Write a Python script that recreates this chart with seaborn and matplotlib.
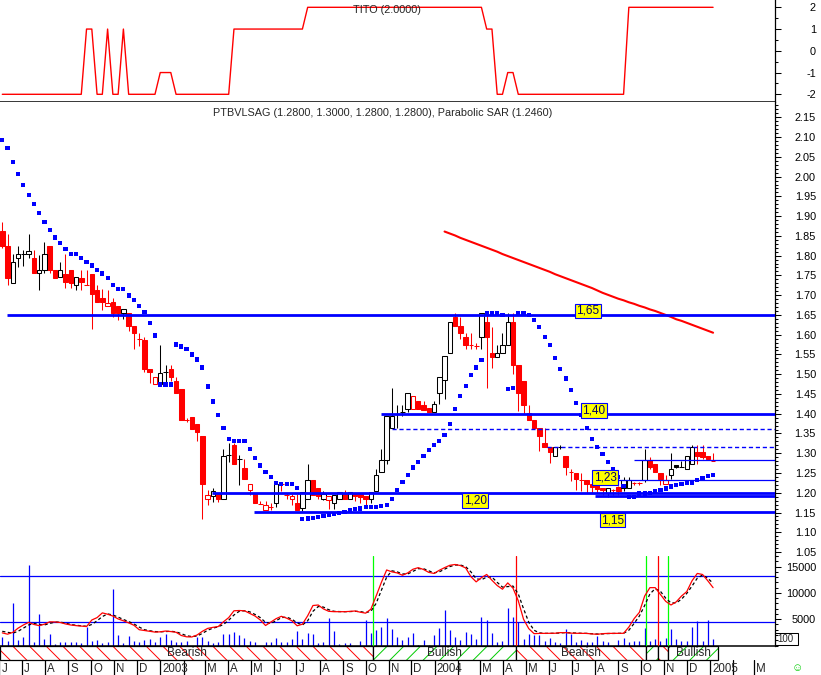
import numpy as np
import pandas as pd
import matplotlib
matplotlib.use("Agg")
import matplotlib.pyplot as plt
import seaborn as sns
from matplotlib.patches import Rectangle
from matplotlib.ticker import MultipleLocator, FixedLocator, FormatStrFormatter

sns.set_style("white")
plt.rcParams["font.family"] = ["Liberation Sans", "DejaVu Sans"]
plt.rcParams["axes.unicode_minus"] = False
plt.rcParams["hatch.linewidth"] = 0.7

RED, BLUE, GREEN = "#ff0000", "#0000ff", "#00ff00"

# weekly bars, first one dated 2002-06-05
first_bar = "2002-06-05"

opens = [1.862, 1.825, 1.732, 1.794, 1.804, 1.803, 1.794, 1.755, 1.763, 1.824,
         1.763, 1.745, 1.753, 1.763, 1.725, 1.743, 1.725, 1.753, 1.713, 1.693,
         1.672, 1.683, 1.672, 1.654, 1.654, 1.622, 1.588, 1.586, 1.513, 1.474,
         1.474, 1.505, 1.513, 1.482, 1.462, 1.383, 1.391, 1.374, 1.343, 1.183,
         1.193, 1.198, 1.183, 1.295, 1.322, 1.285, 1.262, 1.207, 1.200, 1.172,
         1.156, 1.165, 1.173, 1.222, 1.194, 1.183, 1.174, 1.162, 1.183, 1.233,
         1.211, 1.183, 1.181, 1.173, 1.183, 1.198, 1.183, 1.198, 1.198, 1.191,
         1.183, 1.204, 1.253, 1.284, 1.363, 1.400, 1.405, 1.413, 1.413, 1.432,
         1.422, 1.415, 1.405, 1.453, 1.485, 1.553, 1.645, 1.622, 1.593, 1.575,
         1.572, 1.593, 1.633, 1.554, 1.544, 1.553, 1.575, 1.633, 1.523, 1.482,
         1.402, 1.384, 1.363, 1.325, 1.315, 1.293, 1.316, 1.293, 1.253, 1.251,
         1.233, 1.233, 1.222, 1.220, 1.211, 1.200, 1.206, 1.215, 1.213, 1.213,
         1.225, 1.224, 1.233, 1.284, 1.274, 1.251, 1.223, 1.244, 1.270, 1.264,
         1.261, 1.274, 1.303, 1.303, 1.293, 1.280]
highs = [1.885, 1.855, 1.804, 1.825, 1.814, 1.855, 1.815, 1.801, 1.834, 1.824,
         1.763, 1.783, 1.804, 1.763, 1.745, 1.763, 1.763, 1.753, 1.725, 1.715,
         1.714, 1.694, 1.672, 1.664, 1.654, 1.622, 1.603, 1.594, 1.513, 1.492,
         1.574, 1.524, 1.524, 1.493, 1.462, 1.390, 1.391, 1.374, 1.343, 1.206,
         1.211, 1.198, 1.312, 1.326, 1.326, 1.295, 1.285, 1.223, 1.200, 1.180,
         1.178, 1.175, 1.223, 1.222, 1.200, 1.198, 1.198, 1.202, 1.274, 1.233,
         1.211, 1.204, 1.191, 1.194, 1.202, 1.207, 1.202, 1.198, 1.198, 1.191,
         1.201, 1.261, 1.312, 1.394, 1.464, 1.422, 1.422, 1.453, 1.444, 1.432,
         1.432, 1.415, 1.432, 1.492, 1.546, 1.633, 1.655, 1.645, 1.603, 1.603,
         1.580, 1.655, 1.655, 1.620, 1.575, 1.603, 1.655, 1.655, 1.523, 1.482,
         1.422, 1.384, 1.363, 1.363, 1.315, 1.315, 1.320, 1.293, 1.260, 1.251,
         1.250, 1.233, 1.240, 1.222, 1.211, 1.213, 1.210, 1.218, 1.240, 1.240,
         1.228, 1.226, 1.310, 1.290, 1.274, 1.251, 1.245, 1.300, 1.270, 1.280,
         1.293, 1.320, 1.320, 1.320, 1.293, 1.300]
lows = [1.820, 1.725, 1.730, 1.772, 1.775, 1.795, 1.755, 1.713, 1.755, 1.755,
        1.744, 1.745, 1.717, 1.717, 1.713, 1.713, 1.725, 1.615, 1.683, 1.662,
        1.672, 1.646, 1.637, 1.640, 1.610, 1.565, 1.572, 1.505, 1.477, 1.474,
        1.474, 1.474, 1.482, 1.453, 1.384, 1.378, 1.362, 1.331, 1.133, 1.169,
        1.177, 1.177, 1.183, 1.279, 1.274, 1.220, 1.236, 1.194, 1.174, 1.172,
        1.156, 1.156, 1.165, 1.205, 1.185, 1.168, 1.156, 1.155, 1.183, 1.194,
        1.183, 1.181, 1.158, 1.160, 1.183, 1.183, 1.183, 1.178, 1.174, 1.170,
        1.174, 1.204, 1.253, 1.274, 1.363, 1.363, 1.393, 1.405, 1.413, 1.413,
        1.410, 1.405, 1.405, 1.424, 1.437, 1.574, 1.622, 1.590, 1.565, 1.565,
        1.565, 1.565, 1.464, 1.515, 1.544, 1.553, 1.575, 1.500, 1.407, 1.400,
        1.384, 1.363, 1.306, 1.316, 1.276, 1.293, 1.312, 1.244, 1.230, 1.206,
        1.205, 1.200, 1.200, 1.200, 1.195, 1.190, 1.195, 1.195, 1.205, 1.213,
        1.220, 1.220, 1.226, 1.260, 1.252, 1.220, 1.223, 1.234, 1.262, 1.264,
        1.261, 1.274, 1.274, 1.285, 1.285, 1.280]
closes = [1.825, 1.744, 1.784, 1.804, 1.804, 1.813, 1.755, 1.763, 1.804, 1.763,
          1.744, 1.763, 1.734, 1.730, 1.745, 1.734, 1.725, 1.704, 1.683, 1.682,
          1.680, 1.656, 1.654, 1.664, 1.623, 1.603, 1.588, 1.514, 1.505, 1.492,
          1.502, 1.505, 1.493, 1.453, 1.384, 1.383, 1.362, 1.354, 1.222, 1.194,
          1.204, 1.183, 1.292, 1.295, 1.274, 1.285, 1.236, 1.223, 1.174, 1.172,
          1.168, 1.165, 1.223, 1.222, 1.194, 1.192, 1.156, 1.202, 1.233, 1.194,
          1.192, 1.198, 1.191, 1.194, 1.202, 1.183, 1.202, 1.191, 1.190, 1.183,
          1.201, 1.244, 1.282, 1.394, 1.394, 1.400, 1.405, 1.453, 1.444, 1.413,
          1.410, 1.405, 1.424, 1.492, 1.546, 1.633, 1.622, 1.603, 1.575, 1.573,
          1.572, 1.654, 1.593, 1.544, 1.554, 1.575, 1.633, 1.523, 1.453, 1.422,
          1.384, 1.363, 1.343, 1.316, 1.303, 1.315, 1.316, 1.264, 1.253, 1.234,
          1.233, 1.222, 1.214, 1.210, 1.206, 1.213, 1.206, 1.205, 1.233, 1.233,
          1.225, 1.224, 1.284, 1.265, 1.252, 1.234, 1.233, 1.261, 1.264, 1.264,
          1.293, 1.315, 1.293, 1.290, 1.285, 1.280]

sar = [2.093, 2.072, 2.036, 2.006, 1.978, 1.953, 1.930, 1.907, 1.885, 1.864,
       1.846, 1.831, 1.817, 1.804, 1.804, 1.793, 1.784, 1.775, 1.763, 1.755,
       1.744, 1.725, 1.715, 1.715, 1.699, 1.687, 1.672, 1.658, 1.629, 1.598,
       1.474, 1.474, 1.474, 1.575, 1.570, 1.563, 1.550, 1.537, 1.517, 1.469,
       1.431, 1.396, 1.363, 1.335, 1.332, 1.332, 1.332, 1.310, 1.287, 1.269,
       1.253, 1.239, 1.225, 1.223, 1.223, 1.223, 1.213, 1.133, 1.135, 1.137,
       1.139, 1.141, 1.144, 1.147, 1.149, 1.152, 1.156, 1.158, 1.160, 1.163,
       1.163, 1.164, 1.166, 1.170, 1.185, 1.208, 1.227, 1.246, 1.264, 1.278,
       1.294, 1.309, 1.320, 1.332, 1.347, 1.373, 1.411, 1.444, 1.471, 1.498,
       1.517, 1.535, 1.655, 1.655, 1.655, 1.650, 1.462, 1.466, 1.655, 1.655,
       1.650, 1.637, 1.620, 1.595, 1.574, 1.542, 1.514, 1.489, 1.461, 1.428,
       1.396, 1.363, 1.336, 1.316, 1.298, 1.278, 1.260, 1.240, 1.217, 1.190,
       1.190, 1.198, 1.198, 1.200, 1.204, 1.208, 1.211, 1.216, 1.219, 1.223,
       1.226, 1.226, 1.233, 1.237, 1.243, 1.246]

ma_start = 84
ma = [1.861, 1.856, 1.851, 1.845, 1.840, 1.835, 1.830, 1.825, 1.820, 1.815,
      1.810, 1.804, 1.799, 1.794, 1.789, 1.784, 1.779, 1.774, 1.769, 1.764,
      1.759, 1.753, 1.748, 1.743, 1.738, 1.733, 1.728, 1.723, 1.718, 1.712,
      1.706, 1.701, 1.696, 1.691, 1.687, 1.682, 1.678, 1.673, 1.669, 1.664,
      1.660, 1.655, 1.650, 1.645, 1.639, 1.635, 1.630, 1.625, 1.620, 1.615,
      1.610, 1.605]

tito = [-2] * 16 + [1, 1, -2, -2, 1, -2, -2, 1, -2] + [-2] * 5 + [-1] * 3 \
    + [-2] * 11 + [1] * 14 + [2] * 34 + [1, 1, -2, -2, -1, -1] + [-2] * 21 + [2] * 17

volume = [1680, 856, 8020, 1046, 1617, 15311, 729, 5991, 1236, 2187,
          285, 729, 729, 602, 729, 539, 3582, 856, 1046, 476,
          602, 10746, 1997, 539, 1807, 856, 729, 1046, 1236, 729,
          1553, 2187, 1046, 729, 729, 856, 0, 1680, 1680, 856,
          539, 729, 2187, 2187, 2568, 1997, 1363, 856, 729, 0,
          602, 602, 1363, 602, 729, 1236, 2758, 1236, 2378, 2251,
          539, 602, 5294, 2758, 285, 539, 539, 0, 856, 4850,
          2378, 2948, 3519, 5294, 3138, 1680, 1046, 1680, 2441, 150,
          1046, 150, 1997, 3392, 6752, 2948, 1680, 1046, 2504, 2124,
          1236, 5484, 4850, 2441, 602, 919, 7196, 5484, 4406, 1236,
          2187, 1997, 1997, 919, 1490, 602, 539, 3138, 2124, 729,
          1046, 729, 602, 1870, 919, 602, 0, 1046, 1490, 729,
          856, 856, 3392, 856, 1236, 919, 1490, 3138, 1236, 919,
          856, 3582, 4660, 856, 4850, 1236]

osc_fast = [2400, 2150, 2500, 3300, 3900, 4400, 4000, 3780, 4050, 4500,
            4480, 4380, 4100, 3900, 3780, 3700, 3600, 4850, 5300, 6200,
            5950, 5600, 5050, 4700, 4300, 3850, 3000, 2850, 2700, 2550,
            2600, 2750, 2650, 2520, 1900, 1650, 1620, 2000, 2700, 3250,
            3450, 3600, 4500, 5300, 6600, 6650, 6600, 6100, 5600, 4850,
            3800, 4450, 5100, 5550, 5200, 4700, 3750, 4050, 5650, 7600,
            7700, 6950, 6500, 6430, 6430, 6430, 6480, 6560, 6330, 6150,
            6900, 9400, 12000, 14360, 14000, 13800, 13350, 13800, 14500, 14800,
            14450, 13900, 13700, 14300, 14800, 15250, 15400, 15200, 14750, 13100,
            12100, 12900, 13500, 12400, 11400, 10700, 11900, 10900, 8500, 5000,
            3200, 2250, 2300, 2320, 2320, 2330, 2450, 2450, 2350, 2320,
            2320, 2300, 2200, 2130, 2250, 2300, 2310, 2310, 2320, 3500,
            5100, 6300, 9400, 11000, 11000, 9700, 8400, 7700, 8300, 9400,
            10250, 12300, 13700, 13500, 12300, 11000]
osc_slow = [2700, 2500, 2350, 2700, 3300, 3900, 4200, 4000, 3900, 4200,
            4450, 4450, 4250, 4000, 3850, 3750, 3650, 4000, 4700, 5500,
            6000, 5800, 5400, 4950, 4550, 4100, 3500, 3000, 2800, 2650,
            2600, 2650, 2700, 2600, 2250, 1850, 1700, 1800, 2300, 2900,
            3300, 3550, 4000, 4800, 5800, 6500, 6600, 6400, 5900, 5300,
            4400, 4200, 4700, 5300, 5400, 5000, 4300, 3900, 4700, 6500,
            7400, 7300, 6800, 6500, 6450, 6430, 6450, 6500, 6450, 6250,
            6500, 8000, 10500, 13000, 14200, 14000, 13600, 13600, 14100, 14600,
            14600, 14200, 13800, 14000, 14500, 15000, 15300, 15300, 15000, 14000,
            12700, 12500, 13000, 13000, 12000, 11100, 11200, 11300, 9800, 7000,
            4400, 2900, 2400, 2300, 2300, 2320, 2380, 2450, 2400, 2350,
            2320, 2300, 2250, 2180, 2200, 2270, 2300, 2310, 2320, 2900,
            4200, 5600, 7600, 9800, 10800, 10300, 9000, 8100, 8100, 8800,
            9900, 11300, 12800, 13400, 12800, 11800]
vol_levels = [13213, 4406]

# support / resistance lines: level, first bar, kind
levels = [1.65, 1.40, 1.362, 1.315, 1.284, 1.233, 1.20, 1.193, 1.152]
level_from = [0.8, 71.9, 74.0, 103.4, 120.0, 114.5, 39.8, 112.6, 47.8]
level_kind = ["thick", "thick", "dash", "dash", "thin", "thin", "thick", "thick", "thick"]
tag_text = ["1,65", "1,40", "1,23", "1,20", "1,15"]
tag_x = [111.2, 112.4, 114.5, 89.8, 115.9]
tag_y = [1.660, 1.408, 1.239, 1.181, 1.131]

# trend band and crossover signals
seg_edges = [-0.44, 70.5, 97.5, 122.3, 124.6, 126.5, 136.0]
seg_trend = ["Bearish", "Bullish", "Bearish", "Bullish", "Bearish", "Bullish"]
seg_text = ["Bearish", "Bullish", "Bearish", "", "", "Bullish"]
signal_pos = [70.5, 97.5, 122.3, 124.6, 126.5]
signal_col = [GREEN, RED, GREEN, RED, GREEN]

W, H = 821, 675
XLIM = (-0.437, 146.76)


def box(x0, y0, x1, y1):
    return [x0 / W, 1 - y1 / H, (x1 - x0) / W, (y1 - y0) / H]


fig = plt.figure(figsize=(W / 100, H / 100), dpi=100)
ax_t = fig.add_axes(box(0, 0, 775, 102.3))
ax_p = fig.add_axes(box(0, 102.3, 775, 556))
ax_v = fig.add_axes(box(0, 556, 775, 645.5))
ax_b = fig.add_axes(box(0, 645.5, 775, 660))
ax_m = fig.add_axes(box(0, 660, 775, 675))

idx = np.arange(len(closes))
o, h, l, c = map(np.array, (opens, highs, lows, closes))

# ---- TITO panel
sns.lineplot(x=idx, y=tito, ax=ax_t, color=RED, lw=1.0)
ax_t.set_ylim(-2.368, 2.336)
ax_t.yaxis.set_major_locator(MultipleLocator(1))
ax_t.yaxis.set_minor_locator(MultipleLocator(0.5))

# ---- price panel
prev = np.r_[np.inf, c[:-1]]
col = np.where(c < prev, RED, "black")
ax_p.vlines(idx, l, h, colors=col, lw=0.75, zorder=2)
down = c < o - 1e-9
up = c > o + 1e-9
doji = ~(up | down)
ax_p.bar(idx[down], (o - c)[down], bottom=c[down], width=0.85,
         color=col[down], edgecolor=col[down], lw=0.75, zorder=3)
ax_p.bar(idx[up], (c - o)[up], bottom=o[up], width=0.85,
         facecolor="white", edgecolor=col[up], lw=0.75, zorder=3)
ax_p.hlines(c[doji], idx[doji] - 0.45, idx[doji] + 0.45, colors=col[doji], lw=0.75, zorder=3)

sns.lineplot(x=np.arange(ma_start, ma_start + len(ma)), y=ma, ax=ax_p,
             color=RED, lw=1.5, zorder=3.5)
sns.scatterplot(x=idx, y=sar, ax=ax_p, marker="s", s=9, color=BLUE,
                edgecolor="none", zorder=4, legend=False)

for lv, x0, kind in zip(levels, level_from, level_kind):
    if kind == "thick":
        ax_p.hlines(lv, x0, XLIM[1], colors=BLUE, lw=2.0, zorder=5)
    elif kind == "dash":
        ax_p.hlines(lv, x0, XLIM[1], colors=BLUE, lw=1.0, linestyles=(0, (3.0, 2.0)), zorder=5)
    else:
        ax_p.hlines(lv, x0, XLIM[1], colors=BLUE, lw=0.9, zorder=5)
for t, x, y in zip(tag_text, tag_x, tag_y):
    ax_p.text(x, y, t, ha="center", va="center", fontsize=8.5, color="#000066", zorder=6,
              bbox=dict(boxstyle="square,pad=0.12", facecolor="#ffff00", edgecolor=BLUE, lw=0.8))
ax_p.set_ylim(1.040, 2.188)
ax_p.yaxis.set_major_locator(MultipleLocator(0.05))
ax_p.yaxis.set_minor_locator(MultipleLocator(0.01))
ax_p.yaxis.set_major_formatter(FormatStrFormatter("%.2f"))

# ---- volume / oscillator panel
ax_v.vlines(idx, 0, volume, colors=BLUE, lw=0.9, zorder=2)
for lv in vol_levels:
    ax_v.axhline(lv, color=BLUE, lw=0.9, zorder=1)
for p, cl in zip(signal_pos, signal_col):
    ax_v.axvline(p, color=cl, lw=0.9, zorder=3)
sns.lineplot(x=idx, y=osc_slow, ax=ax_v, color="black", lw=0.9,
             linestyle=(0, (2.5, 2.0)), zorder=4)
sns.lineplot(x=idx, y=osc_fast, ax=ax_v, color=RED, lw=0.9, zorder=5)
ax_v.set_ylim(0, 17015)
ax_v.yaxis.set_major_locator(FixedLocator([5000, 10000, 15000]))
ax_v.yaxis.set_minor_locator(MultipleLocator(1000))
ax_v.yaxis.set_major_formatter(FormatStrFormatter("%d"))

for ax in (ax_t, ax_p, ax_v):
    ax.set_xlim(*XLIM)
    ax.set_xlabel("")
    ax.set_ylabel("")
    ax.set_xticks([])
    ax.yaxis.tick_right()
    for s in ("left", "top", "bottom", "right"):
        ax.spines[s].set_visible(False)
    ax.spines["right"].set_visible(True)
    ax.spines["right"].set_color("black")
    ax.spines["right"].set_linewidth(0.9)
    ax.tick_params(axis="y", which="major", direction="out", length=4.3, width=0.75,
                   color="black", labelsize=7.8, pad=25.2, labelcolor="black")
    ax.tick_params(axis="y", which="minor", direction="out", length=2.4, width=0.75, color="black")
    for lab in ax.get_yticklabels():
        lab.set_horizontalalignment("right")
for ax in (ax_t, ax_v):
    ax.spines["bottom"].set_visible(True)
    ax.spines["bottom"].set_color("black")
    ax.spines["bottom"].set_linewidth(1.1)

# ---- trend band
ax_b.set_xlim(*XLIM)
ax_b.set_ylim(0, 1)
ax_b.axis("off")
for x0, x1, trend, txt in zip(seg_edges[:-1], seg_edges[1:], seg_trend, seg_text):
    hc = RED if trend == "Bearish" else "#00cc00"
    hatch = "\\\\" if trend == "Bearish" else "//"
    ax_b.add_patch(Rectangle((x0, 0), x1 - x0, 1, facecolor="white", edgecolor=hc,
                             hatch=hatch, lw=0))
    ax_b.add_patch(Rectangle((x0, 0), x1 - x0, 1, fill=False, edgecolor="black",
                             lw=0.9, clip_on=False))
    if txt:
        ax_b.text((x0 + x1) / 2, 0.45, txt, ha="center", va="center", fontsize=8.5)

# ---- month strip
dates = pd.date_range(first_bar, periods=len(closes), freq="7D")
month_starts = pd.date_range("2002-06-01", "2005-03-01", freq="MS")
month_pos = np.asarray((month_starts - dates[0]).days) / 7
ax_m.set_xlim(*XLIM)
ax_m.set_ylim(0, 1)
ax_m.axis("off")
for d, p in zip(month_starts, month_pos):
    ax_m.axvline(p, color="black", lw=0.9)
    if d.month == 1:
        lab = str(d.year)
    elif d.month == 2:
        lab = ""
    else:
        lab = d.strftime("%b")[0]
    ax_m.text(p + 0.38, 0.42, lab, ha="left", va="center", fontsize=8.3)

# ---- captions and small widgets
fig.text(353 / W, 1 - 10 / H, "TITO (2.0000)", ha="left", va="center", fontsize=7.8)
fig.text(213 / W, 1 - 112.5 / H,
         "PTBVLSAG (1.2800, 1.3000, 1.2800, 1.2800), Parabolic SAR (1.2460)",
         ha="left", va="center", fontsize=7.8)
fig.add_artist(Rectangle((775 / W, 1 - 645 / H), 23.3 / W, 11.7 / H, fill=False,
                         edgecolor="black", lw=0.75, transform=fig.transFigure))
fig.text(777 / W, 1 - 639 / H, "100", ha="left", va="center", fontsize=7)
fig.text(797 / W, 1 - 668 / H, "\u263a", ha="center", va="center", fontsize=8, color="#00cc00")

fig.savefig("out.png", dpi=100, facecolor="white")
